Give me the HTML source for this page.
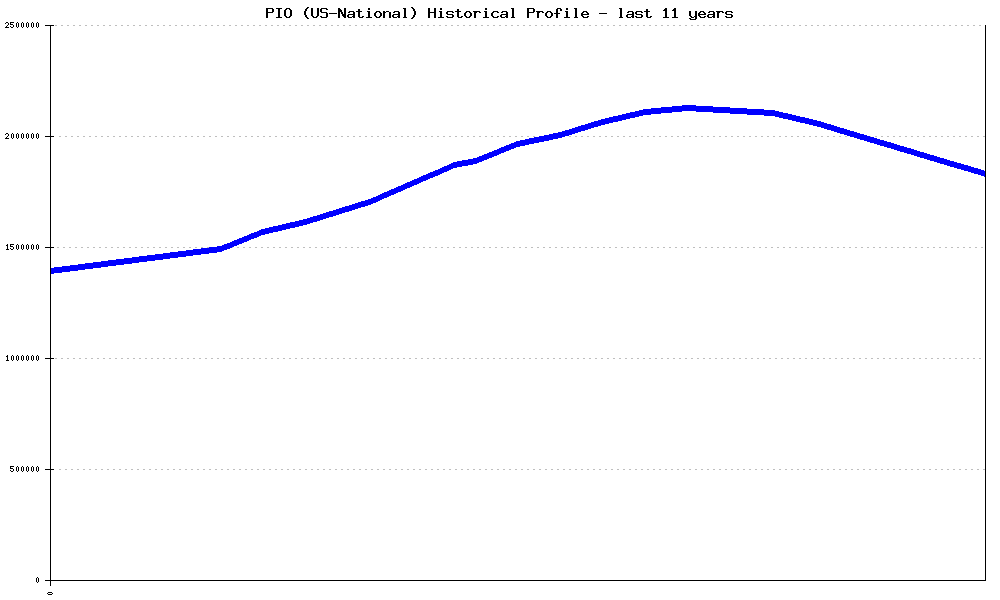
<!DOCTYPE html>
<html><head><meta charset="utf-8"><style>
html,body{margin:0;padding:0;background:#fff;width:1000px;height:600px;overflow:hidden}
svg{display:block}
.t{font-family:"Liberation Mono",monospace;font-weight:normal;font-size:15px}
</style></head><body>
<svg width="1000" height="600" viewBox="0 0 1000 600" shape-rendering="crispEdges">
<rect width="1000" height="600" fill="#fff"/>
<g fill="#000"><rect x="266" y="8" width="7" height="1"/><rect x="266" y="9" width="2" height="1"/><rect x="272" y="9" width="2" height="1"/><rect x="266" y="10" width="2" height="1"/><rect x="272" y="10" width="2" height="1"/><rect x="266" y="11" width="2" height="1"/><rect x="272" y="11" width="2" height="1"/><rect x="266" y="12" width="7" height="1"/><rect x="266" y="13" width="2" height="1"/><rect x="266" y="14" width="2" height="1"/><rect x="266" y="15" width="2" height="1"/><rect x="266" y="16" width="2" height="1"/><rect x="266" y="17" width="2" height="1"/><rect x="276" y="8" width="6" height="1"/><rect x="278" y="9" width="2" height="1"/><rect x="278" y="10" width="2" height="1"/><rect x="278" y="11" width="2" height="1"/><rect x="278" y="12" width="2" height="1"/><rect x="278" y="13" width="2" height="1"/><rect x="278" y="14" width="2" height="1"/><rect x="278" y="15" width="2" height="1"/><rect x="278" y="16" width="2" height="1"/><rect x="276" y="17" width="6" height="1"/><rect x="286" y="8" width="4" height="1"/><rect x="285" y="9" width="2" height="1"/><rect x="289" y="9" width="2" height="1"/><rect x="284" y="10" width="2" height="1"/><rect x="290" y="10" width="2" height="1"/><rect x="284" y="11" width="2" height="1"/><rect x="290" y="11" width="2" height="1"/><rect x="284" y="12" width="2" height="1"/><rect x="290" y="12" width="2" height="1"/><rect x="284" y="13" width="2" height="1"/><rect x="290" y="13" width="2" height="1"/><rect x="284" y="14" width="2" height="1"/><rect x="290" y="14" width="2" height="1"/><rect x="284" y="15" width="2" height="1"/><rect x="290" y="15" width="2" height="1"/><rect x="285" y="16" width="2" height="1"/><rect x="289" y="16" width="2" height="1"/><rect x="286" y="17" width="4" height="1"/><rect x="307" y="7" width="2" height="1"/><rect x="306" y="8" width="2" height="1"/><rect x="305" y="9" width="2" height="1"/><rect x="305" y="10" width="2" height="1"/><rect x="304" y="11" width="2" height="1"/><rect x="304" y="12" width="2" height="1"/><rect x="304" y="13" width="2" height="1"/><rect x="304" y="14" width="2" height="1"/><rect x="305" y="15" width="2" height="1"/><rect x="305" y="16" width="2" height="1"/><rect x="306" y="17" width="2" height="1"/><rect x="307" y="18" width="2" height="1"/><rect x="311" y="8" width="2" height="1"/><rect x="317" y="8" width="2" height="1"/><rect x="311" y="9" width="2" height="1"/><rect x="317" y="9" width="2" height="1"/><rect x="311" y="10" width="2" height="1"/><rect x="317" y="10" width="2" height="1"/><rect x="311" y="11" width="2" height="1"/><rect x="317" y="11" width="2" height="1"/><rect x="311" y="12" width="2" height="1"/><rect x="317" y="12" width="2" height="1"/><rect x="311" y="13" width="2" height="1"/><rect x="317" y="13" width="2" height="1"/><rect x="311" y="14" width="2" height="1"/><rect x="317" y="14" width="2" height="1"/><rect x="311" y="15" width="2" height="1"/><rect x="317" y="15" width="2" height="1"/><rect x="312" y="16" width="2" height="1"/><rect x="316" y="16" width="2" height="1"/><rect x="313" y="17" width="4" height="1"/><rect x="321" y="8" width="6" height="1"/><rect x="320" y="9" width="2" height="1"/><rect x="326" y="9" width="2" height="1"/><rect x="320" y="10" width="2" height="1"/><rect x="320" y="11" width="2" height="1"/><rect x="321" y="12" width="6" height="1"/><rect x="326" y="13" width="2" height="1"/><rect x="326" y="14" width="2" height="1"/><rect x="326" y="15" width="2" height="1"/><rect x="320" y="16" width="2" height="1"/><rect x="326" y="16" width="2" height="1"/><rect x="321" y="17" width="6" height="1"/><rect x="329" y="13" width="8" height="1"/><rect x="338" y="8" width="2" height="1"/><rect x="344" y="8" width="2" height="1"/><rect x="338" y="9" width="3" height="1"/><rect x="344" y="9" width="2" height="1"/><rect x="338" y="10" width="4" height="1"/><rect x="344" y="10" width="2" height="1"/><rect x="338" y="11" width="4" height="1"/><rect x="344" y="11" width="2" height="1"/><rect x="338" y="12" width="2" height="1"/><rect x="341" y="12" width="2" height="1"/><rect x="344" y="12" width="2" height="1"/><rect x="338" y="13" width="2" height="1"/><rect x="341" y="13" width="2" height="1"/><rect x="344" y="13" width="2" height="1"/><rect x="338" y="14" width="2" height="1"/><rect x="342" y="14" width="4" height="1"/><rect x="338" y="15" width="2" height="1"/><rect x="342" y="15" width="4" height="1"/><rect x="338" y="16" width="2" height="1"/><rect x="343" y="16" width="3" height="1"/><rect x="338" y="17" width="2" height="1"/><rect x="344" y="17" width="2" height="1"/><rect x="349" y="11" width="5" height="1"/><rect x="348" y="12" width="2" height="1"/><rect x="353" y="12" width="2" height="1"/><rect x="353" y="13" width="2" height="1"/><rect x="348" y="14" width="7" height="1"/><rect x="347" y="15" width="2" height="1"/><rect x="353" y="15" width="2" height="1"/><rect x="347" y="16" width="2" height="1"/><rect x="352" y="16" width="3" height="1"/><rect x="348" y="17" width="4" height="1"/><rect x="353" y="17" width="2" height="1"/><rect x="358" y="9" width="2" height="1"/><rect x="358" y="10" width="2" height="1"/><rect x="356" y="11" width="6" height="1"/><rect x="358" y="12" width="2" height="1"/><rect x="358" y="13" width="2" height="1"/><rect x="358" y="14" width="2" height="1"/><rect x="358" y="15" width="2" height="1"/><rect x="358" y="16" width="2" height="1"/><rect x="362" y="16" width="2" height="1"/><rect x="359" y="17" width="4" height="1"/><rect x="368" y="8" width="2" height="1"/><rect x="368" y="9" width="2" height="1"/><rect x="367" y="11" width="3" height="1"/><rect x="368" y="12" width="2" height="1"/><rect x="368" y="13" width="2" height="1"/><rect x="368" y="14" width="2" height="1"/><rect x="368" y="15" width="2" height="1"/><rect x="368" y="16" width="2" height="1"/><rect x="366" y="17" width="6" height="1"/><rect x="376" y="11" width="4" height="1"/><rect x="375" y="12" width="2" height="1"/><rect x="379" y="12" width="2" height="1"/><rect x="374" y="13" width="2" height="1"/><rect x="380" y="13" width="2" height="1"/><rect x="374" y="14" width="2" height="1"/><rect x="380" y="14" width="2" height="1"/><rect x="374" y="15" width="2" height="1"/><rect x="380" y="15" width="2" height="1"/><rect x="375" y="16" width="2" height="1"/><rect x="379" y="16" width="2" height="1"/><rect x="376" y="17" width="4" height="1"/><rect x="383" y="11" width="2" height="1"/><rect x="386" y="11" width="3" height="1"/><rect x="383" y="12" width="3" height="1"/><rect x="389" y="12" width="2" height="1"/><rect x="383" y="13" width="2" height="1"/><rect x="389" y="13" width="2" height="1"/><rect x="383" y="14" width="2" height="1"/><rect x="389" y="14" width="2" height="1"/><rect x="383" y="15" width="2" height="1"/><rect x="389" y="15" width="2" height="1"/><rect x="383" y="16" width="2" height="1"/><rect x="389" y="16" width="2" height="1"/><rect x="383" y="17" width="2" height="1"/><rect x="389" y="17" width="2" height="1"/><rect x="394" y="11" width="5" height="1"/><rect x="393" y="12" width="2" height="1"/><rect x="398" y="12" width="2" height="1"/><rect x="398" y="13" width="2" height="1"/><rect x="393" y="14" width="7" height="1"/><rect x="392" y="15" width="2" height="1"/><rect x="398" y="15" width="2" height="1"/><rect x="392" y="16" width="2" height="1"/><rect x="397" y="16" width="3" height="1"/><rect x="393" y="17" width="4" height="1"/><rect x="398" y="17" width="2" height="1"/><rect x="403" y="8" width="3" height="1"/><rect x="404" y="9" width="2" height="1"/><rect x="404" y="10" width="2" height="1"/><rect x="404" y="11" width="2" height="1"/><rect x="404" y="12" width="2" height="1"/><rect x="404" y="13" width="2" height="1"/><rect x="404" y="14" width="2" height="1"/><rect x="404" y="15" width="2" height="1"/><rect x="404" y="16" width="2" height="1"/><rect x="403" y="17" width="4" height="1"/><rect x="411" y="7" width="2" height="1"/><rect x="412" y="8" width="2" height="1"/><rect x="413" y="9" width="2" height="1"/><rect x="413" y="10" width="2" height="1"/><rect x="414" y="11" width="2" height="1"/><rect x="414" y="12" width="2" height="1"/><rect x="414" y="13" width="2" height="1"/><rect x="414" y="14" width="2" height="1"/><rect x="413" y="15" width="2" height="1"/><rect x="413" y="16" width="2" height="1"/><rect x="412" y="17" width="2" height="1"/><rect x="411" y="18" width="2" height="1"/><rect x="428" y="8" width="2" height="1"/><rect x="434" y="8" width="2" height="1"/><rect x="428" y="9" width="2" height="1"/><rect x="434" y="9" width="2" height="1"/><rect x="428" y="10" width="2" height="1"/><rect x="434" y="10" width="2" height="1"/><rect x="428" y="11" width="2" height="1"/><rect x="434" y="11" width="2" height="1"/><rect x="428" y="12" width="8" height="1"/><rect x="428" y="13" width="2" height="1"/><rect x="434" y="13" width="2" height="1"/><rect x="428" y="14" width="2" height="1"/><rect x="434" y="14" width="2" height="1"/><rect x="428" y="15" width="2" height="1"/><rect x="434" y="15" width="2" height="1"/><rect x="428" y="16" width="2" height="1"/><rect x="434" y="16" width="2" height="1"/><rect x="428" y="17" width="2" height="1"/><rect x="434" y="17" width="2" height="1"/><rect x="440" y="8" width="2" height="1"/><rect x="440" y="9" width="2" height="1"/><rect x="439" y="11" width="3" height="1"/><rect x="440" y="12" width="2" height="1"/><rect x="440" y="13" width="2" height="1"/><rect x="440" y="14" width="2" height="1"/><rect x="440" y="15" width="2" height="1"/><rect x="440" y="16" width="2" height="1"/><rect x="438" y="17" width="6" height="1"/><rect x="447" y="11" width="6" height="1"/><rect x="446" y="12" width="2" height="1"/><rect x="452" y="12" width="2" height="1"/><rect x="446" y="13" width="2" height="1"/><rect x="447" y="14" width="6" height="1"/><rect x="452" y="15" width="2" height="1"/><rect x="446" y="16" width="2" height="1"/><rect x="452" y="16" width="2" height="1"/><rect x="447" y="17" width="6" height="1"/><rect x="457" y="9" width="2" height="1"/><rect x="457" y="10" width="2" height="1"/><rect x="455" y="11" width="6" height="1"/><rect x="457" y="12" width="2" height="1"/><rect x="457" y="13" width="2" height="1"/><rect x="457" y="14" width="2" height="1"/><rect x="457" y="15" width="2" height="1"/><rect x="457" y="16" width="2" height="1"/><rect x="461" y="16" width="2" height="1"/><rect x="458" y="17" width="4" height="1"/><rect x="466" y="11" width="4" height="1"/><rect x="465" y="12" width="2" height="1"/><rect x="469" y="12" width="2" height="1"/><rect x="464" y="13" width="2" height="1"/><rect x="470" y="13" width="2" height="1"/><rect x="464" y="14" width="2" height="1"/><rect x="470" y="14" width="2" height="1"/><rect x="464" y="15" width="2" height="1"/><rect x="470" y="15" width="2" height="1"/><rect x="465" y="16" width="2" height="1"/><rect x="469" y="16" width="2" height="1"/><rect x="466" y="17" width="4" height="1"/><rect x="473" y="11" width="7" height="1"/><rect x="474" y="12" width="3" height="1"/><rect x="479" y="12" width="2" height="1"/><rect x="474" y="13" width="2" height="1"/><rect x="474" y="14" width="2" height="1"/><rect x="474" y="15" width="2" height="1"/><rect x="474" y="16" width="2" height="1"/><rect x="474" y="17" width="2" height="1"/><rect x="485" y="8" width="2" height="1"/><rect x="485" y="9" width="2" height="1"/><rect x="484" y="11" width="3" height="1"/><rect x="485" y="12" width="2" height="1"/><rect x="485" y="13" width="2" height="1"/><rect x="485" y="14" width="2" height="1"/><rect x="485" y="15" width="2" height="1"/><rect x="485" y="16" width="2" height="1"/><rect x="483" y="17" width="6" height="1"/><rect x="493" y="11" width="5" height="1"/><rect x="492" y="12" width="2" height="1"/><rect x="497" y="12" width="2" height="1"/><rect x="491" y="13" width="2" height="1"/><rect x="491" y="14" width="2" height="1"/><rect x="491" y="15" width="2" height="1"/><rect x="492" y="16" width="2" height="1"/><rect x="497" y="16" width="2" height="1"/><rect x="493" y="17" width="5" height="1"/><rect x="502" y="11" width="5" height="1"/><rect x="501" y="12" width="2" height="1"/><rect x="506" y="12" width="2" height="1"/><rect x="506" y="13" width="2" height="1"/><rect x="501" y="14" width="7" height="1"/><rect x="500" y="15" width="2" height="1"/><rect x="506" y="15" width="2" height="1"/><rect x="500" y="16" width="2" height="1"/><rect x="505" y="16" width="3" height="1"/><rect x="501" y="17" width="4" height="1"/><rect x="506" y="17" width="2" height="1"/><rect x="511" y="8" width="3" height="1"/><rect x="512" y="9" width="2" height="1"/><rect x="512" y="10" width="2" height="1"/><rect x="512" y="11" width="2" height="1"/><rect x="512" y="12" width="2" height="1"/><rect x="512" y="13" width="2" height="1"/><rect x="512" y="14" width="2" height="1"/><rect x="512" y="15" width="2" height="1"/><rect x="512" y="16" width="2" height="1"/><rect x="511" y="17" width="4" height="1"/><rect x="527" y="8" width="7" height="1"/><rect x="527" y="9" width="2" height="1"/><rect x="533" y="9" width="2" height="1"/><rect x="527" y="10" width="2" height="1"/><rect x="533" y="10" width="2" height="1"/><rect x="527" y="11" width="2" height="1"/><rect x="533" y="11" width="2" height="1"/><rect x="527" y="12" width="7" height="1"/><rect x="527" y="13" width="2" height="1"/><rect x="527" y="14" width="2" height="1"/><rect x="527" y="15" width="2" height="1"/><rect x="527" y="16" width="2" height="1"/><rect x="527" y="17" width="2" height="1"/><rect x="536" y="11" width="7" height="1"/><rect x="537" y="12" width="3" height="1"/><rect x="542" y="12" width="2" height="1"/><rect x="537" y="13" width="2" height="1"/><rect x="537" y="14" width="2" height="1"/><rect x="537" y="15" width="2" height="1"/><rect x="537" y="16" width="2" height="1"/><rect x="537" y="17" width="2" height="1"/><rect x="547" y="11" width="4" height="1"/><rect x="546" y="12" width="2" height="1"/><rect x="550" y="12" width="2" height="1"/><rect x="545" y="13" width="2" height="1"/><rect x="551" y="13" width="2" height="1"/><rect x="545" y="14" width="2" height="1"/><rect x="551" y="14" width="2" height="1"/><rect x="545" y="15" width="2" height="1"/><rect x="551" y="15" width="2" height="1"/><rect x="546" y="16" width="2" height="1"/><rect x="550" y="16" width="2" height="1"/><rect x="547" y="17" width="4" height="1"/><rect x="557" y="8" width="4" height="1"/><rect x="556" y="9" width="2" height="1"/><rect x="560" y="9" width="2" height="1"/><rect x="556" y="10" width="2" height="1"/><rect x="560" y="10" width="2" height="1"/><rect x="556" y="11" width="2" height="1"/><rect x="556" y="12" width="2" height="1"/><rect x="554" y="13" width="6" height="1"/><rect x="556" y="14" width="2" height="1"/><rect x="556" y="15" width="2" height="1"/><rect x="556" y="16" width="2" height="1"/><rect x="556" y="17" width="2" height="1"/><rect x="566" y="8" width="2" height="1"/><rect x="566" y="9" width="2" height="1"/><rect x="565" y="11" width="3" height="1"/><rect x="566" y="12" width="2" height="1"/><rect x="566" y="13" width="2" height="1"/><rect x="566" y="14" width="2" height="1"/><rect x="566" y="15" width="2" height="1"/><rect x="566" y="16" width="2" height="1"/><rect x="564" y="17" width="6" height="1"/><rect x="574" y="8" width="3" height="1"/><rect x="575" y="9" width="2" height="1"/><rect x="575" y="10" width="2" height="1"/><rect x="575" y="11" width="2" height="1"/><rect x="575" y="12" width="2" height="1"/><rect x="575" y="13" width="2" height="1"/><rect x="575" y="14" width="2" height="1"/><rect x="575" y="15" width="2" height="1"/><rect x="575" y="16" width="2" height="1"/><rect x="574" y="17" width="4" height="1"/><rect x="583" y="11" width="4" height="1"/><rect x="582" y="12" width="2" height="1"/><rect x="586" y="12" width="2" height="1"/><rect x="581" y="13" width="2" height="1"/><rect x="587" y="13" width="2" height="1"/><rect x="581" y="14" width="8" height="1"/><rect x="581" y="15" width="2" height="1"/><rect x="582" y="16" width="2" height="1"/><rect x="587" y="16" width="2" height="1"/><rect x="583" y="17" width="5" height="1"/><rect x="599" y="13" width="8" height="1"/><rect x="619" y="8" width="3" height="1"/><rect x="620" y="9" width="2" height="1"/><rect x="620" y="10" width="2" height="1"/><rect x="620" y="11" width="2" height="1"/><rect x="620" y="12" width="2" height="1"/><rect x="620" y="13" width="2" height="1"/><rect x="620" y="14" width="2" height="1"/><rect x="620" y="15" width="2" height="1"/><rect x="620" y="16" width="2" height="1"/><rect x="619" y="17" width="4" height="1"/><rect x="628" y="11" width="5" height="1"/><rect x="627" y="12" width="2" height="1"/><rect x="632" y="12" width="2" height="1"/><rect x="632" y="13" width="2" height="1"/><rect x="627" y="14" width="7" height="1"/><rect x="626" y="15" width="2" height="1"/><rect x="632" y="15" width="2" height="1"/><rect x="626" y="16" width="2" height="1"/><rect x="631" y="16" width="3" height="1"/><rect x="627" y="17" width="4" height="1"/><rect x="632" y="17" width="2" height="1"/><rect x="636" y="11" width="6" height="1"/><rect x="635" y="12" width="2" height="1"/><rect x="641" y="12" width="2" height="1"/><rect x="635" y="13" width="2" height="1"/><rect x="636" y="14" width="6" height="1"/><rect x="641" y="15" width="2" height="1"/><rect x="635" y="16" width="2" height="1"/><rect x="641" y="16" width="2" height="1"/><rect x="636" y="17" width="6" height="1"/><rect x="646" y="9" width="2" height="1"/><rect x="646" y="10" width="2" height="1"/><rect x="644" y="11" width="6" height="1"/><rect x="646" y="12" width="2" height="1"/><rect x="646" y="13" width="2" height="1"/><rect x="646" y="14" width="2" height="1"/><rect x="646" y="15" width="2" height="1"/><rect x="646" y="16" width="2" height="1"/><rect x="650" y="16" width="2" height="1"/><rect x="647" y="17" width="4" height="1"/><rect x="665" y="8" width="2" height="1"/><rect x="664" y="9" width="3" height="1"/><rect x="663" y="10" width="4" height="1"/><rect x="665" y="11" width="2" height="1"/><rect x="665" y="12" width="2" height="1"/><rect x="665" y="13" width="2" height="1"/><rect x="665" y="14" width="2" height="1"/><rect x="665" y="15" width="2" height="1"/><rect x="665" y="16" width="2" height="1"/><rect x="663" y="17" width="6" height="1"/><rect x="674" y="8" width="2" height="1"/><rect x="673" y="9" width="3" height="1"/><rect x="672" y="10" width="4" height="1"/><rect x="674" y="11" width="2" height="1"/><rect x="674" y="12" width="2" height="1"/><rect x="674" y="13" width="2" height="1"/><rect x="674" y="14" width="2" height="1"/><rect x="674" y="15" width="2" height="1"/><rect x="674" y="16" width="2" height="1"/><rect x="672" y="17" width="6" height="1"/><rect x="689" y="11" width="2" height="1"/><rect x="695" y="11" width="2" height="1"/><rect x="689" y="12" width="2" height="1"/><rect x="695" y="12" width="2" height="1"/><rect x="689" y="13" width="2" height="1"/><rect x="695" y="13" width="2" height="1"/><rect x="689" y="14" width="2" height="1"/><rect x="695" y="14" width="2" height="1"/><rect x="689" y="15" width="2" height="1"/><rect x="695" y="15" width="2" height="1"/><rect x="690" y="16" width="2" height="1"/><rect x="694" y="16" width="3" height="1"/><rect x="691" y="17" width="3" height="1"/><rect x="695" y="17" width="2" height="1"/><rect x="689" y="18" width="2" height="1"/><rect x="695" y="18" width="2" height="1"/><rect x="690" y="19" width="6" height="1"/><rect x="700" y="11" width="4" height="1"/><rect x="699" y="12" width="2" height="1"/><rect x="703" y="12" width="2" height="1"/><rect x="698" y="13" width="2" height="1"/><rect x="704" y="13" width="2" height="1"/><rect x="698" y="14" width="8" height="1"/><rect x="698" y="15" width="2" height="1"/><rect x="699" y="16" width="2" height="1"/><rect x="704" y="16" width="2" height="1"/><rect x="700" y="17" width="5" height="1"/><rect x="709" y="11" width="5" height="1"/><rect x="708" y="12" width="2" height="1"/><rect x="713" y="12" width="2" height="1"/><rect x="713" y="13" width="2" height="1"/><rect x="708" y="14" width="7" height="1"/><rect x="707" y="15" width="2" height="1"/><rect x="713" y="15" width="2" height="1"/><rect x="707" y="16" width="2" height="1"/><rect x="712" y="16" width="3" height="1"/><rect x="708" y="17" width="4" height="1"/><rect x="713" y="17" width="2" height="1"/><rect x="716" y="11" width="7" height="1"/><rect x="717" y="12" width="3" height="1"/><rect x="722" y="12" width="2" height="1"/><rect x="717" y="13" width="2" height="1"/><rect x="717" y="14" width="2" height="1"/><rect x="717" y="15" width="2" height="1"/><rect x="717" y="16" width="2" height="1"/><rect x="717" y="17" width="2" height="1"/><rect x="726" y="11" width="6" height="1"/><rect x="725" y="12" width="2" height="1"/><rect x="731" y="12" width="2" height="1"/><rect x="725" y="13" width="2" height="1"/><rect x="726" y="14" width="6" height="1"/><rect x="731" y="15" width="2" height="1"/><rect x="725" y="16" width="2" height="1"/><rect x="731" y="16" width="2" height="1"/><rect x="726" y="17" width="6" height="1"/></g>
<g stroke="#bebebe" stroke-width="1" stroke-dasharray="2 4"><line x1="55" y1="25.5" x2="985" y2="25.5"/><line x1="59" y1="136.5" x2="985" y2="136.5"/><line x1="57" y1="247.5" x2="985" y2="247.5"/><line x1="55" y1="358.5" x2="985" y2="358.5"/><line x1="59" y1="469.5" x2="985" y2="469.5"/></g>
<polygon fill="#0000ff" points="50,268 54,268 54,267 62,267 62,266 70,266 70,265 78,265 78,264 85,264 85,263 93,263 93,262 101,262 101,261 108,261 108,260 116,260 116,259 124,259 124,258 132,258 132,257 139,257 139,256 147,256 147,255 155,255 155,254 163,254 163,253 170,253 170,252 178,252 178,251 186,251 186,250 193,250 193,249 201,249 201,248 209,248 209,247 217,247 217,246 222,246 222,245 224,245 224,244 227,244 227,243 230,243 230,242 232,242 232,241 234,241 234,240 237,240 237,239 239,239 239,238 242,238 242,237 244,237 244,236 247,236 247,235 249,235 249,234 251,234 251,233 254,233 254,232 257,232 257,231 259,231 259,230 261,230 261,229 265,229 265,228 269,228 269,227 273,227 273,226 278,226 278,225 282,225 282,224 286,224 286,223 290,223 290,222 295,222 295,221 299,221 299,220 303,220 303,219 307,219 307,218 310,218 310,217 313,217 313,216 317,216 317,215 320,215 320,214 323,214 323,213 326,213 326,212 329,212 329,211 333,211 333,210 336,210 336,209 339,209 339,208 342,208 342,207 345,207 345,206 349,206 349,205 352,205 352,204 355,204 355,203 358,203 358,202 361,202 361,201 365,201 365,200 368,200 368,199 371,199 371,198 373,198 373,197 376,197 376,196 378,196 378,195 380,195 380,194 382,194 382,193 384,193 384,192 387,192 387,191 389,191 389,190 391,190 391,189 394,189 394,188 396,188 396,187 398,187 398,186 401,186 401,185 403,185 403,184 405,184 405,183 407,183 407,182 410,182 410,181 412,181 412,180 414,180 414,179 417,179 417,178 419,178 419,177 421,177 421,176 423,176 423,175 426,175 426,174 428,174 428,173 430,173 430,172 433,172 433,171 435,171 435,170 438,170 438,169 440,169 440,168 442,168 442,167 444,167 444,166 447,166 447,165 449,165 449,164 451,164 451,163 453,163 453,162 457,162 457,161 462,161 462,160 468,160 468,159 473,159 473,158 477,158 477,157 479,157 479,156 482,156 482,155 484,155 484,154 487,154 487,153 489,153 489,152 492,152 492,151 494,151 494,150 497,150 497,149 499,149 499,148 501,148 501,147 504,147 504,146 506,146 506,145 509,145 509,144 511,144 511,143 514,143 514,142 516,142 516,141 520,141 520,140 525,140 525,139 529,139 529,138 534,138 534,137 539,137 539,136 544,136 544,135 549,135 549,134 553,134 553,133 558,133 558,132 562,132 562,131 565,131 565,130 569,130 569,129 572,129 572,128 575,128 575,127 578,127 578,126 581,126 581,125 585,125 585,124 588,124 588,123 591,123 591,122 594,122 594,121 598,121 598,120 601,120 601,119 605,119 605,118 609,118 609,117 613,117 613,116 618,116 618,115 622,115 622,114 626,114 626,113 630,113 630,112 635,112 635,111 639,111 639,110 643,110 643,109 651,109 651,108 661,108 661,107 672,107 672,106 682,106 682,105 696,105 696,106 713,106 713,107 730,107 730,108 747,108 747,109 764,109 764,110 775,110 775,111 779,111 779,112 783,112 783,113 788,113 788,114 792,114 792,115 796,115 796,116 800,116 800,117 805,117 805,118 809,118 809,119 813,119 813,120 817,120 817,121 821,121 821,122 824,122 824,123 827,123 827,124 831,124 831,125 834,125 834,126 837,126 837,127 840,127 840,128 844,128 844,129 847,129 847,130 850,130 850,131 854,131 854,132 857,132 857,133 860,133 860,134 864,134 864,135 867,135 867,136 870,136 870,137 874,137 874,138 877,138 877,139 880,139 880,140 884,140 884,141 887,141 887,142 891,142 891,143 894,143 894,144 897,144 897,145 900,145 900,146 904,146 904,147 907,147 907,148 911,148 911,149 914,149 914,150 917,150 917,151 920,151 920,152 924,152 924,153 927,153 927,154 930,154 930,155 934,155 934,156 937,156 937,157 940,157 940,158 944,158 944,159 947,159 947,160 950,160 950,161 954,161 954,162 957,162 957,163 961,163 961,164 964,164 964,165 968,165 968,166 971,166 971,167 974,167 974,168 978,168 978,169 981,169 981,170 984,170 984,171 986,171 986,177 984,177 984,176 981,176 981,175 978,175 978,174 974,174 974,173 971,173 971,172 968,172 968,171 964,171 964,170 961,170 961,169 957,169 957,168 954,168 954,167 950,167 950,166 947,166 947,165 944,165 944,164 940,164 940,163 937,163 937,162 934,162 934,161 930,161 930,160 927,160 927,159 924,159 924,158 920,158 920,157 917,157 917,156 914,156 914,155 911,155 911,154 907,154 907,153 904,153 904,152 900,152 900,151 897,151 897,150 894,150 894,149 891,149 891,148 887,148 887,147 884,147 884,146 880,146 880,145 877,145 877,144 874,144 874,143 870,143 870,142 867,142 867,141 864,141 864,140 860,140 860,139 857,139 857,138 854,138 854,137 850,137 850,136 847,136 847,135 844,135 844,134 840,134 840,133 837,133 837,132 834,132 834,131 831,131 831,130 827,130 827,129 824,129 824,128 821,128 821,127 817,127 817,126 813,126 813,125 809,125 809,124 805,124 805,123 800,123 800,122 796,122 796,121 792,121 792,120 788,120 788,119 783,119 783,118 779,118 779,117 775,117 775,116 764,116 764,115 747,115 747,114 730,114 730,113 713,113 713,112 696,112 696,111 682,111 682,112 672,112 672,113 661,113 661,114 651,114 651,115 643,115 643,116 639,116 639,117 635,117 635,118 630,118 630,119 626,119 626,120 622,120 622,121 618,121 618,122 613,122 613,123 609,123 609,124 605,124 605,125 601,125 601,126 598,126 598,127 594,127 594,128 591,128 591,129 588,129 588,130 585,130 585,131 581,131 581,132 578,132 578,133 575,133 575,134 572,134 572,135 569,135 569,136 565,136 565,137 562,137 562,138 558,138 558,139 553,139 553,140 549,140 549,141 544,141 544,142 539,142 539,143 534,143 534,144 529,144 529,145 525,145 525,146 520,146 520,147 516,147 516,148 514,148 514,149 511,149 511,150 509,150 509,151 506,151 506,152 504,152 504,153 501,153 501,154 499,154 499,155 497,155 497,156 494,156 494,157 492,157 492,158 489,158 489,159 487,159 487,160 484,160 484,161 482,161 482,162 479,162 479,163 477,163 477,164 473,164 473,165 468,165 468,166 462,166 462,167 457,167 457,168 453,168 453,169 451,169 451,170 449,170 449,171 447,171 447,172 444,172 444,173 442,173 442,174 440,174 440,175 438,175 438,176 435,176 435,177 433,177 433,178 430,178 430,179 428,179 428,180 426,180 426,181 423,181 423,182 421,182 421,183 419,183 419,184 417,184 417,185 414,185 414,186 412,186 412,187 410,187 410,188 407,188 407,189 405,189 405,190 403,190 403,191 401,191 401,192 398,192 398,193 396,193 396,194 394,194 394,195 391,195 391,196 389,196 389,197 387,197 387,198 384,198 384,199 382,199 382,200 380,200 380,201 378,201 378,202 376,202 376,203 373,203 373,204 371,204 371,205 368,205 368,206 365,206 365,207 361,207 361,208 358,208 358,209 355,209 355,210 352,210 352,211 349,211 349,212 345,212 345,213 342,213 342,214 339,214 339,215 336,215 336,216 333,216 333,217 329,217 329,218 326,218 326,219 323,219 323,220 320,220 320,221 317,221 317,222 313,222 313,223 310,223 310,224 307,224 307,225 303,225 303,226 299,226 299,227 295,227 295,228 290,228 290,229 286,229 286,230 282,230 282,231 278,231 278,232 273,232 273,233 269,233 269,234 265,234 265,235 261,235 261,236 259,236 259,237 257,237 257,238 254,238 254,239 251,239 251,240 249,240 249,241 247,241 247,242 244,242 244,243 242,243 242,244 239,244 239,245 237,245 237,246 234,246 234,247 232,247 232,248 230,248 230,249 227,249 227,250 224,250 224,251 222,251 222,252 217,252 217,253 209,253 209,254 201,254 201,255 193,255 193,256 186,256 186,257 178,257 178,258 170,258 170,259 163,259 163,260 155,260 155,261 147,261 147,262 139,262 139,263 132,263 132,264 124,264 124,265 116,265 116,266 108,266 108,267 101,267 101,268 93,268 93,269 85,269 85,270 78,270 78,271 70,271 70,272 62,272 62,273 54,273 54,274 50,274"/>
<g fill="#000">
<rect x="50" y="25" width="1" height="561"/>
<rect x="985" y="25" width="1" height="556"/>
<rect x="50" y="580" width="936" height="1"/>
<rect x="45" y="25" width="9" height="1"/><rect x="45" y="136" width="9" height="1"/><rect x="45" y="247" width="9" height="1"/><rect x="45" y="358" width="9" height="1"/><rect x="45" y="469" width="9" height="1"/><rect x="45" y="580" width="9" height="1"/>
<rect x="6" y="22" width="2" height="1"/><rect x="5" y="23" width="1" height="1"/><rect x="8" y="23" width="1" height="1"/><rect x="8" y="24" width="1" height="1"/><rect x="7" y="25" width="1" height="1"/><rect x="6" y="26" width="1" height="1"/><rect x="5" y="27" width="4" height="1"/><rect x="10" y="22" width="4" height="1"/><rect x="10" y="23" width="1" height="1"/><rect x="10" y="24" width="3" height="1"/><rect x="13" y="25" width="1" height="1"/><rect x="10" y="26" width="1" height="1"/><rect x="13" y="26" width="1" height="1"/><rect x="11" y="27" width="2" height="1"/><rect x="17" y="22" width="1" height="1"/><rect x="16" y="23" width="1" height="1"/><rect x="18" y="23" width="1" height="1"/><rect x="16" y="24" width="1" height="1"/><rect x="18" y="24" width="1" height="1"/><rect x="16" y="25" width="1" height="1"/><rect x="18" y="25" width="1" height="1"/><rect x="16" y="26" width="1" height="1"/><rect x="18" y="26" width="1" height="1"/><rect x="17" y="27" width="1" height="1"/><rect x="22" y="22" width="1" height="1"/><rect x="21" y="23" width="1" height="1"/><rect x="23" y="23" width="1" height="1"/><rect x="21" y="24" width="1" height="1"/><rect x="23" y="24" width="1" height="1"/><rect x="21" y="25" width="1" height="1"/><rect x="23" y="25" width="1" height="1"/><rect x="21" y="26" width="1" height="1"/><rect x="23" y="26" width="1" height="1"/><rect x="22" y="27" width="1" height="1"/><rect x="27" y="22" width="1" height="1"/><rect x="26" y="23" width="1" height="1"/><rect x="28" y="23" width="1" height="1"/><rect x="26" y="24" width="1" height="1"/><rect x="28" y="24" width="1" height="1"/><rect x="26" y="25" width="1" height="1"/><rect x="28" y="25" width="1" height="1"/><rect x="26" y="26" width="1" height="1"/><rect x="28" y="26" width="1" height="1"/><rect x="27" y="27" width="1" height="1"/><rect x="32" y="22" width="1" height="1"/><rect x="31" y="23" width="1" height="1"/><rect x="33" y="23" width="1" height="1"/><rect x="31" y="24" width="1" height="1"/><rect x="33" y="24" width="1" height="1"/><rect x="31" y="25" width="1" height="1"/><rect x="33" y="25" width="1" height="1"/><rect x="31" y="26" width="1" height="1"/><rect x="33" y="26" width="1" height="1"/><rect x="32" y="27" width="1" height="1"/><rect x="37" y="22" width="1" height="1"/><rect x="36" y="23" width="1" height="1"/><rect x="38" y="23" width="1" height="1"/><rect x="36" y="24" width="1" height="1"/><rect x="38" y="24" width="1" height="1"/><rect x="36" y="25" width="1" height="1"/><rect x="38" y="25" width="1" height="1"/><rect x="36" y="26" width="1" height="1"/><rect x="38" y="26" width="1" height="1"/><rect x="37" y="27" width="1" height="1"/><rect x="6" y="133" width="2" height="1"/><rect x="5" y="134" width="1" height="1"/><rect x="8" y="134" width="1" height="1"/><rect x="8" y="135" width="1" height="1"/><rect x="7" y="136" width="1" height="1"/><rect x="6" y="137" width="1" height="1"/><rect x="5" y="138" width="4" height="1"/><rect x="12" y="133" width="1" height="1"/><rect x="11" y="134" width="1" height="1"/><rect x="13" y="134" width="1" height="1"/><rect x="11" y="135" width="1" height="1"/><rect x="13" y="135" width="1" height="1"/><rect x="11" y="136" width="1" height="1"/><rect x="13" y="136" width="1" height="1"/><rect x="11" y="137" width="1" height="1"/><rect x="13" y="137" width="1" height="1"/><rect x="12" y="138" width="1" height="1"/><rect x="17" y="133" width="1" height="1"/><rect x="16" y="134" width="1" height="1"/><rect x="18" y="134" width="1" height="1"/><rect x="16" y="135" width="1" height="1"/><rect x="18" y="135" width="1" height="1"/><rect x="16" y="136" width="1" height="1"/><rect x="18" y="136" width="1" height="1"/><rect x="16" y="137" width="1" height="1"/><rect x="18" y="137" width="1" height="1"/><rect x="17" y="138" width="1" height="1"/><rect x="22" y="133" width="1" height="1"/><rect x="21" y="134" width="1" height="1"/><rect x="23" y="134" width="1" height="1"/><rect x="21" y="135" width="1" height="1"/><rect x="23" y="135" width="1" height="1"/><rect x="21" y="136" width="1" height="1"/><rect x="23" y="136" width="1" height="1"/><rect x="21" y="137" width="1" height="1"/><rect x="23" y="137" width="1" height="1"/><rect x="22" y="138" width="1" height="1"/><rect x="27" y="133" width="1" height="1"/><rect x="26" y="134" width="1" height="1"/><rect x="28" y="134" width="1" height="1"/><rect x="26" y="135" width="1" height="1"/><rect x="28" y="135" width="1" height="1"/><rect x="26" y="136" width="1" height="1"/><rect x="28" y="136" width="1" height="1"/><rect x="26" y="137" width="1" height="1"/><rect x="28" y="137" width="1" height="1"/><rect x="27" y="138" width="1" height="1"/><rect x="32" y="133" width="1" height="1"/><rect x="31" y="134" width="1" height="1"/><rect x="33" y="134" width="1" height="1"/><rect x="31" y="135" width="1" height="1"/><rect x="33" y="135" width="1" height="1"/><rect x="31" y="136" width="1" height="1"/><rect x="33" y="136" width="1" height="1"/><rect x="31" y="137" width="1" height="1"/><rect x="33" y="137" width="1" height="1"/><rect x="32" y="138" width="1" height="1"/><rect x="37" y="133" width="1" height="1"/><rect x="36" y="134" width="1" height="1"/><rect x="38" y="134" width="1" height="1"/><rect x="36" y="135" width="1" height="1"/><rect x="38" y="135" width="1" height="1"/><rect x="36" y="136" width="1" height="1"/><rect x="38" y="136" width="1" height="1"/><rect x="36" y="137" width="1" height="1"/><rect x="38" y="137" width="1" height="1"/><rect x="37" y="138" width="1" height="1"/><rect x="7" y="244" width="1" height="1"/><rect x="6" y="245" width="2" height="1"/><rect x="7" y="246" width="1" height="1"/><rect x="7" y="247" width="1" height="1"/><rect x="7" y="248" width="1" height="1"/><rect x="6" y="249" width="3" height="1"/><rect x="10" y="244" width="4" height="1"/><rect x="10" y="245" width="1" height="1"/><rect x="10" y="246" width="3" height="1"/><rect x="13" y="247" width="1" height="1"/><rect x="10" y="248" width="1" height="1"/><rect x="13" y="248" width="1" height="1"/><rect x="11" y="249" width="2" height="1"/><rect x="17" y="244" width="1" height="1"/><rect x="16" y="245" width="1" height="1"/><rect x="18" y="245" width="1" height="1"/><rect x="16" y="246" width="1" height="1"/><rect x="18" y="246" width="1" height="1"/><rect x="16" y="247" width="1" height="1"/><rect x="18" y="247" width="1" height="1"/><rect x="16" y="248" width="1" height="1"/><rect x="18" y="248" width="1" height="1"/><rect x="17" y="249" width="1" height="1"/><rect x="22" y="244" width="1" height="1"/><rect x="21" y="245" width="1" height="1"/><rect x="23" y="245" width="1" height="1"/><rect x="21" y="246" width="1" height="1"/><rect x="23" y="246" width="1" height="1"/><rect x="21" y="247" width="1" height="1"/><rect x="23" y="247" width="1" height="1"/><rect x="21" y="248" width="1" height="1"/><rect x="23" y="248" width="1" height="1"/><rect x="22" y="249" width="1" height="1"/><rect x="27" y="244" width="1" height="1"/><rect x="26" y="245" width="1" height="1"/><rect x="28" y="245" width="1" height="1"/><rect x="26" y="246" width="1" height="1"/><rect x="28" y="246" width="1" height="1"/><rect x="26" y="247" width="1" height="1"/><rect x="28" y="247" width="1" height="1"/><rect x="26" y="248" width="1" height="1"/><rect x="28" y="248" width="1" height="1"/><rect x="27" y="249" width="1" height="1"/><rect x="32" y="244" width="1" height="1"/><rect x="31" y="245" width="1" height="1"/><rect x="33" y="245" width="1" height="1"/><rect x="31" y="246" width="1" height="1"/><rect x="33" y="246" width="1" height="1"/><rect x="31" y="247" width="1" height="1"/><rect x="33" y="247" width="1" height="1"/><rect x="31" y="248" width="1" height="1"/><rect x="33" y="248" width="1" height="1"/><rect x="32" y="249" width="1" height="1"/><rect x="37" y="244" width="1" height="1"/><rect x="36" y="245" width="1" height="1"/><rect x="38" y="245" width="1" height="1"/><rect x="36" y="246" width="1" height="1"/><rect x="38" y="246" width="1" height="1"/><rect x="36" y="247" width="1" height="1"/><rect x="38" y="247" width="1" height="1"/><rect x="36" y="248" width="1" height="1"/><rect x="38" y="248" width="1" height="1"/><rect x="37" y="249" width="1" height="1"/><rect x="7" y="355" width="1" height="1"/><rect x="6" y="356" width="2" height="1"/><rect x="7" y="357" width="1" height="1"/><rect x="7" y="358" width="1" height="1"/><rect x="7" y="359" width="1" height="1"/><rect x="6" y="360" width="3" height="1"/><rect x="12" y="355" width="1" height="1"/><rect x="11" y="356" width="1" height="1"/><rect x="13" y="356" width="1" height="1"/><rect x="11" y="357" width="1" height="1"/><rect x="13" y="357" width="1" height="1"/><rect x="11" y="358" width="1" height="1"/><rect x="13" y="358" width="1" height="1"/><rect x="11" y="359" width="1" height="1"/><rect x="13" y="359" width="1" height="1"/><rect x="12" y="360" width="1" height="1"/><rect x="17" y="355" width="1" height="1"/><rect x="16" y="356" width="1" height="1"/><rect x="18" y="356" width="1" height="1"/><rect x="16" y="357" width="1" height="1"/><rect x="18" y="357" width="1" height="1"/><rect x="16" y="358" width="1" height="1"/><rect x="18" y="358" width="1" height="1"/><rect x="16" y="359" width="1" height="1"/><rect x="18" y="359" width="1" height="1"/><rect x="17" y="360" width="1" height="1"/><rect x="22" y="355" width="1" height="1"/><rect x="21" y="356" width="1" height="1"/><rect x="23" y="356" width="1" height="1"/><rect x="21" y="357" width="1" height="1"/><rect x="23" y="357" width="1" height="1"/><rect x="21" y="358" width="1" height="1"/><rect x="23" y="358" width="1" height="1"/><rect x="21" y="359" width="1" height="1"/><rect x="23" y="359" width="1" height="1"/><rect x="22" y="360" width="1" height="1"/><rect x="27" y="355" width="1" height="1"/><rect x="26" y="356" width="1" height="1"/><rect x="28" y="356" width="1" height="1"/><rect x="26" y="357" width="1" height="1"/><rect x="28" y="357" width="1" height="1"/><rect x="26" y="358" width="1" height="1"/><rect x="28" y="358" width="1" height="1"/><rect x="26" y="359" width="1" height="1"/><rect x="28" y="359" width="1" height="1"/><rect x="27" y="360" width="1" height="1"/><rect x="32" y="355" width="1" height="1"/><rect x="31" y="356" width="1" height="1"/><rect x="33" y="356" width="1" height="1"/><rect x="31" y="357" width="1" height="1"/><rect x="33" y="357" width="1" height="1"/><rect x="31" y="358" width="1" height="1"/><rect x="33" y="358" width="1" height="1"/><rect x="31" y="359" width="1" height="1"/><rect x="33" y="359" width="1" height="1"/><rect x="32" y="360" width="1" height="1"/><rect x="37" y="355" width="1" height="1"/><rect x="36" y="356" width="1" height="1"/><rect x="38" y="356" width="1" height="1"/><rect x="36" y="357" width="1" height="1"/><rect x="38" y="357" width="1" height="1"/><rect x="36" y="358" width="1" height="1"/><rect x="38" y="358" width="1" height="1"/><rect x="36" y="359" width="1" height="1"/><rect x="38" y="359" width="1" height="1"/><rect x="37" y="360" width="1" height="1"/><rect x="10" y="466" width="4" height="1"/><rect x="10" y="467" width="1" height="1"/><rect x="10" y="468" width="3" height="1"/><rect x="13" y="469" width="1" height="1"/><rect x="10" y="470" width="1" height="1"/><rect x="13" y="470" width="1" height="1"/><rect x="11" y="471" width="2" height="1"/><rect x="17" y="466" width="1" height="1"/><rect x="16" y="467" width="1" height="1"/><rect x="18" y="467" width="1" height="1"/><rect x="16" y="468" width="1" height="1"/><rect x="18" y="468" width="1" height="1"/><rect x="16" y="469" width="1" height="1"/><rect x="18" y="469" width="1" height="1"/><rect x="16" y="470" width="1" height="1"/><rect x="18" y="470" width="1" height="1"/><rect x="17" y="471" width="1" height="1"/><rect x="22" y="466" width="1" height="1"/><rect x="21" y="467" width="1" height="1"/><rect x="23" y="467" width="1" height="1"/><rect x="21" y="468" width="1" height="1"/><rect x="23" y="468" width="1" height="1"/><rect x="21" y="469" width="1" height="1"/><rect x="23" y="469" width="1" height="1"/><rect x="21" y="470" width="1" height="1"/><rect x="23" y="470" width="1" height="1"/><rect x="22" y="471" width="1" height="1"/><rect x="27" y="466" width="1" height="1"/><rect x="26" y="467" width="1" height="1"/><rect x="28" y="467" width="1" height="1"/><rect x="26" y="468" width="1" height="1"/><rect x="28" y="468" width="1" height="1"/><rect x="26" y="469" width="1" height="1"/><rect x="28" y="469" width="1" height="1"/><rect x="26" y="470" width="1" height="1"/><rect x="28" y="470" width="1" height="1"/><rect x="27" y="471" width="1" height="1"/><rect x="32" y="466" width="1" height="1"/><rect x="31" y="467" width="1" height="1"/><rect x="33" y="467" width="1" height="1"/><rect x="31" y="468" width="1" height="1"/><rect x="33" y="468" width="1" height="1"/><rect x="31" y="469" width="1" height="1"/><rect x="33" y="469" width="1" height="1"/><rect x="31" y="470" width="1" height="1"/><rect x="33" y="470" width="1" height="1"/><rect x="32" y="471" width="1" height="1"/><rect x="37" y="466" width="1" height="1"/><rect x="36" y="467" width="1" height="1"/><rect x="38" y="467" width="1" height="1"/><rect x="36" y="468" width="1" height="1"/><rect x="38" y="468" width="1" height="1"/><rect x="36" y="469" width="1" height="1"/><rect x="38" y="469" width="1" height="1"/><rect x="36" y="470" width="1" height="1"/><rect x="38" y="470" width="1" height="1"/><rect x="37" y="471" width="1" height="1"/><rect x="37" y="577" width="1" height="1"/><rect x="36" y="578" width="1" height="1"/><rect x="38" y="578" width="1" height="1"/><rect x="36" y="579" width="1" height="1"/><rect x="38" y="579" width="1" height="1"/><rect x="36" y="580" width="1" height="1"/><rect x="38" y="580" width="1" height="1"/><rect x="36" y="581" width="1" height="1"/><rect x="38" y="581" width="1" height="1"/><rect x="37" y="582" width="1" height="1"/>
<rect x="47" y="593" width="1" height="1"/><rect x="48" y="592" width="4" height="1"/><rect x="48" y="594" width="4" height="1"/><rect x="52" y="593" width="1" height="1"/>
</g>
</svg>
</body></html>
